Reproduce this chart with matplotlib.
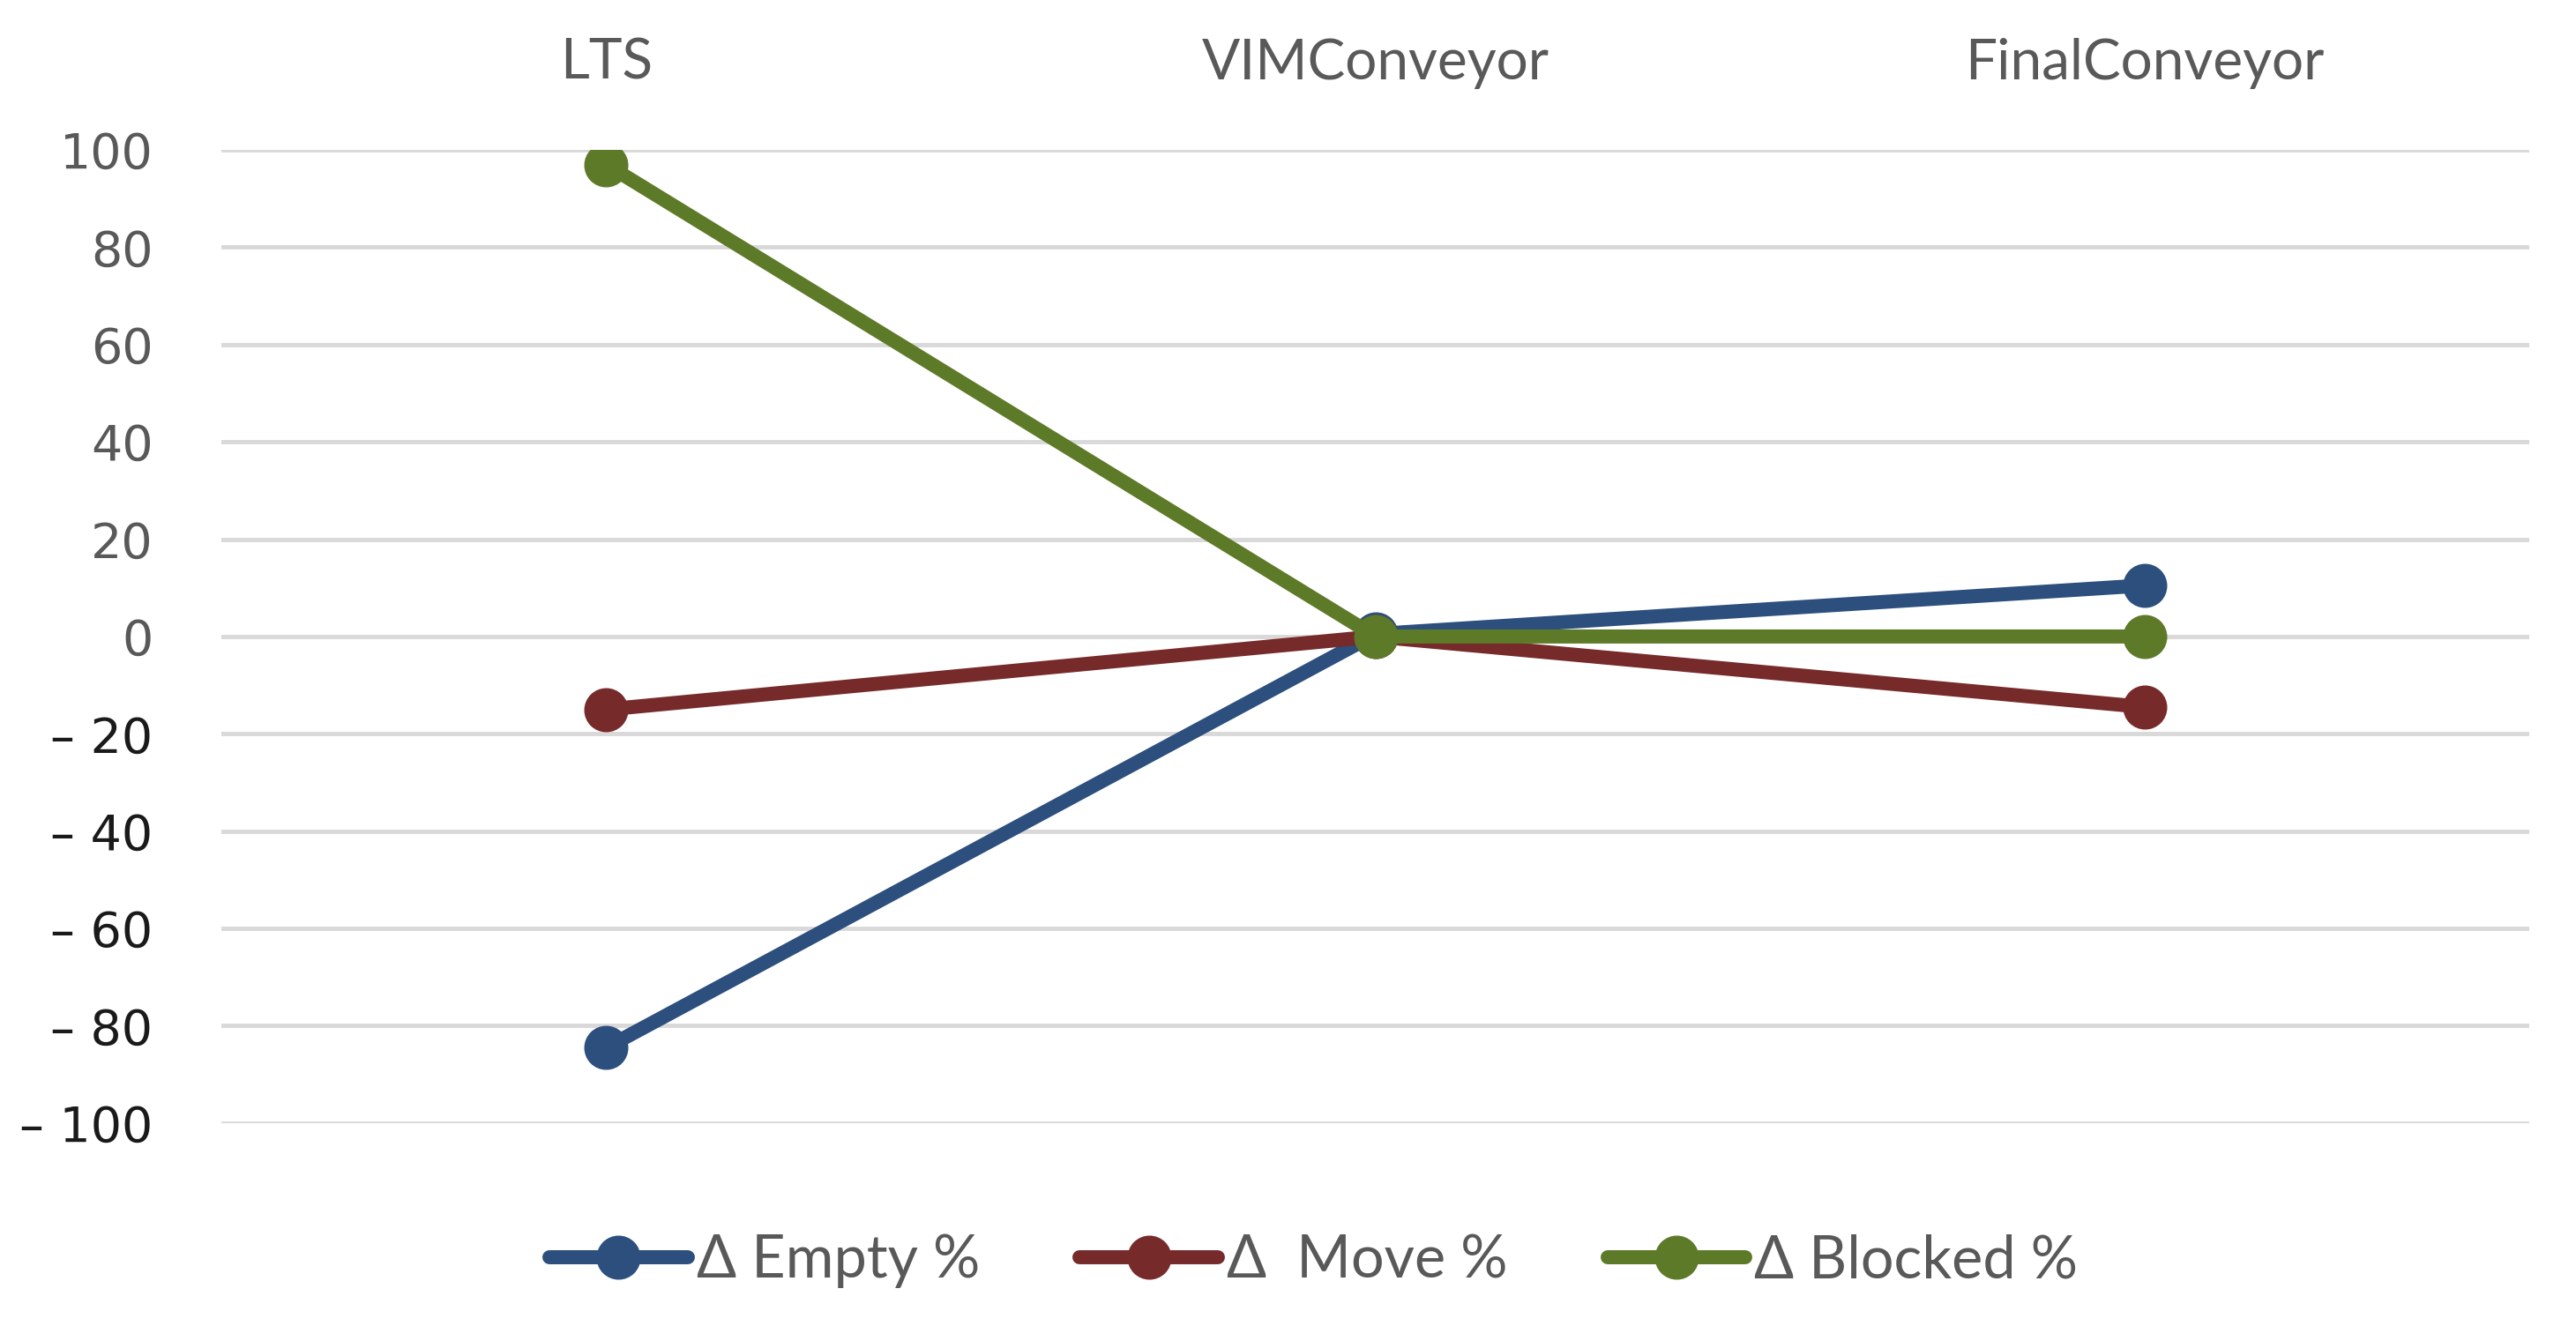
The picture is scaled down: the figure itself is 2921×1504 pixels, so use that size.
import matplotlib
matplotlib.use("Agg")
import matplotlib.pyplot as plt
from matplotlib.ticker import FuncFormatter

categories = ["LTS", "VIMConveyor", "FinalConveyor"]
empty = [-84.5, 0.5, 10.5]
move = [-15, 0, -14.5]
blocked = [97, 0, 0]
series_names = ["\u0394 Empty %", "\u0394  Move %", "\u0394 Blocked %"]
y_ticks = [100, 80, 60, 40, 20, 0, -20, -40, -60, -80, -100]

COLORS = ["#2C4F7E", "#772A2A", "#5D7A28"]
TEXT = "#595959"

fig = plt.figure(figsize=(29.21, 15.04), dpi=100)
ax = fig.add_axes([0.086, 0.153, 0.896, 0.734])

x = range(len(categories))
for vals, name, col in zip([empty, move, blocked], series_names, COLORS):
    ax.plot(x, vals, color=col, linewidth=11.5, marker="o", markersize=35,
            solid_capstyle="round", label=name, zorder=3)

ax.set_xlim(-0.5, len(categories) - 0.5)
ax.set_ylim(-100, 100)
ax.set_yticks(y_ticks)
ax.yaxis.grid(True, color="#d9d9d9", linewidth=3.5)
ax.set_axisbelow(True)


def fmt(v, pos):
    if v < 0:
        return "\u2013 %d" % abs(v)
    return "%d" % v


ax.yaxis.set_major_formatter(FuncFormatter(fmt))
ax.tick_params(axis="y", length=0, pad=56, labelsize=40)
for lab, v in zip(ax.get_yticklabels(), ax.get_yticks()):
    lab.set_color("#1a1a1a" if v < 0 else TEXT)
    lab.set_family("DejaVu Sans")

ax.set_xticks(list(x))
ax.set_xticklabels(categories, fontsize=46, color=TEXT, family="Lato")
ax.xaxis.tick_top()
ax.tick_params(axis="x", length=0, pad=50)

for s in ax.spines.values():
    s.set_visible(False)

leg = fig.legend(loc="center", bbox_to_anchor=(0.51, 0.049), ncol=3, frameon=False,
                 prop={"family": "Lato", "size": 48}, handlelength=2.35,
                 handletextpad=0.15, columnspacing=1.7)
for t in leg.get_texts():
    t.set_color(TEXT)

fig.savefig("out.png", dpi=100)
